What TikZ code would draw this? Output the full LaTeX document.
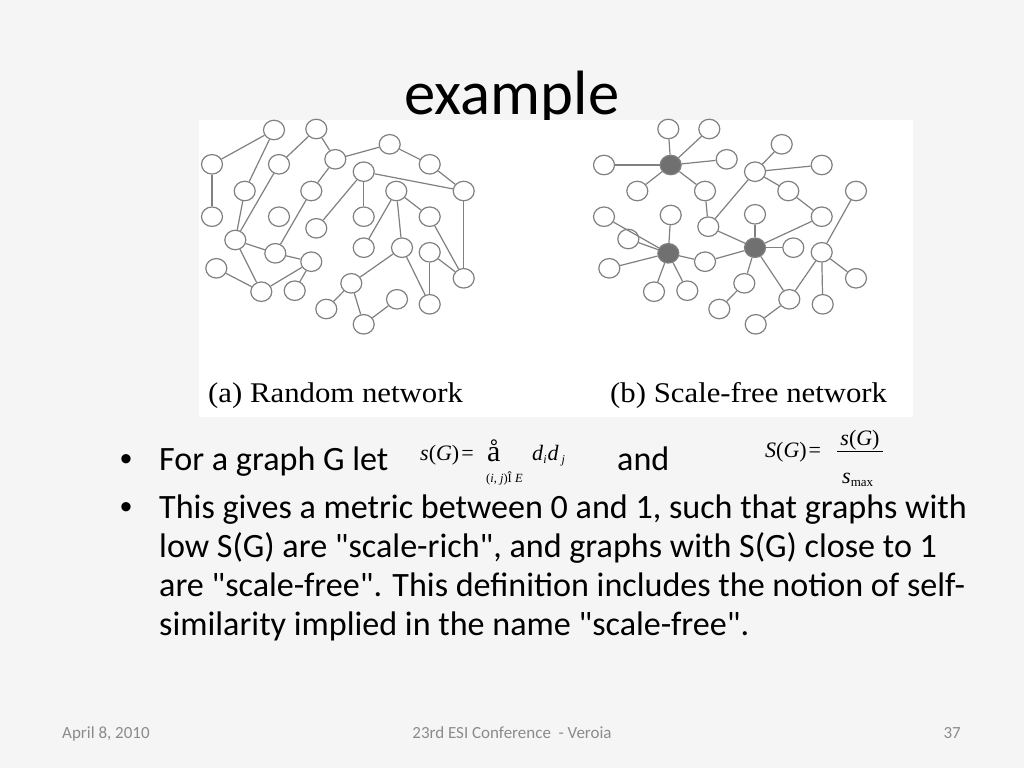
\documentclass[tikz,border=0pt]{standalone}
\usepackage{fontspec}
\setmainfont[Ligatures=TeXOff]{Carlito}
\newfontfamily\tms{Liberation Serif}
\newfontfamily\arl{Liberation Sans}
\usetikzlibrary{shapes.geometric}
\definecolor{slidebg}{RGB}{245,245,245}
\definecolor{edgegray}{RGB}{128,128,128}
\definecolor{hubgray}{RGB}{112,112,112}
\definecolor{footgray}{RGB}{139,139,139}
\tikzset{
  nd/.style={ellipse, draw=edgegray, fill=white, line width=1.2pt, minimum width=21pt, minimum height=19.5pt, inner sep=0pt},
  hub/.style={nd, fill=hubgray},
  edge/.style={draw=edgegray, line width=1.2pt},
  txt/.style={anchor=base west, inner sep=0pt, text=black},
  body/.style={txt, font=\fontsize{34.1}{40}\selectfont},
  foot/.style={inner sep=0pt, text=footgray, font=\fontsize{17}{20}\selectfont},
  glabel/.style={inner sep=0pt, anchor=base west, font=\tms\fontsize{28.5}{32}\selectfont, xscale=1.08, transform shape},
  mth/.style={txt, font=\tms\fontsize{22}{26}\selectfont},
}
\begin{document}
\begin{tikzpicture}[x=1pt,y=-1pt]
\useasboundingbox (0,0) rectangle (1024,768);
\fill[slidebg] (0,0) rectangle (1024,768);
% title
\node[anchor=base, inner sep=0pt, font=\fontsize{62.6}{70}\selectfont] (title) at (512,114) {example};
% picture area
\fill[white] (199,120) rectangle (913,416.5);

% ---------- random network ----------
\node[nd] (L1) at (274,130) {};
\node[nd] (L2) at (316.3,129) {};
\node[nd] (L3) at (212,164.3) {};
\node[nd] (L4) at (279,164.3) {};
\node[nd] (L5) at (335.3,159.3) {};
\node[nd] (L6) at (389.7,144.3) {};
\node[nd] (L7) at (429.7,164.3) {};
\node[nd] (L8) at (363.7,171.7) {};
\node[nd] (L9) at (244.7,191) {};
\node[nd] (L10) at (311.3,191) {};
\node[nd] (L11) at (396.3,191) {};
\node[nd] (L12) at (463.7,191) {};
\node[nd] (L13) at (212,216.7) {};
\node[nd] (L14) at (279,216.7) {};
\node[nd] (L15) at (363.7,216.7) {};
\node[nd] (L16) at (316.3,228.3) {};
\node[nd] (L17) at (429.7,216.7) {};
\node[nd] (L18) at (235.3,240) {};
\node[nd] (L19) at (275.3,253.3) {};
\node[nd] (L20) at (363.7,247.7) {};
\node[nd] (L21) at (402,247.7) {};
\node[nd] (L22) at (429.7,252.3) {};
\node[nd] (L23) at (311.3,261.7) {};
\node[nd] (L24) at (216.3,268.3) {};
\node[nd] (L25) at (463.7,278.3) {};
\node[nd] (L26) at (261.3,291.7) {};
\node[nd] (L27) at (294.7,290.7) {};
\node[nd] (L28) at (351.3,283.3) {};
\node[nd] (L29) at (326.3,309) {};
\node[nd] (L30) at (397,299.3) {};
\node[nd] (L31) at (429.7,304.3) {};
\node[nd] (L32) at (363.7,324.3) {};
\foreach \a/\b in {L1/L3,L1/L9,L2/L4,L2/L5,L3/L13,L4/L18,L5/L6,L5/L10,L6/L7,L7/L12,
  L8/L12,L8/L15,L8/L16,L9/L18,L10/L19,L11/L17,L11/L20,L11/L21,L12/L25,L17/L25,
  L18/L19,L18/L26,L19/L23,L23/L26,L23/L27,L24/L26,L21/L28,L21/L31,L22/L25,L22/L31,
  L28/L29,L28/L32,L30/L32}
  \draw[edge] (\a) -- (\b);

% ---------- scale-free network ----------
\node[nd] (Ra) at (668.3,129) {};
\node[nd] (Rb) at (709.3,129) {};
\node[nd] (Rc) at (604,165) {};
\node[hub] (Rd) at (670.7,165) {};
\node[nd] (Re) at (726.7,159.3) {};
\node[nd] (Rf) at (781.7,144.3) {};
\node[nd] (Rg) at (755,171.7) {};
\node[nd] (Rh) at (821.7,165) {};
\node[nd] (Ri) at (637.3,191) {};
\node[nd] (Rj) at (705,191) {};
\node[nd] (Rk) at (788.3,191) {};
\node[nd] (Rl) at (856,191) {};
\node[nd] (Rm) at (604,216.7) {};
\node[nd] (Rn) at (670.7,215) {};
\node[nd] (Ro) at (755,214.3) {};
\node[nd] (Rp) at (821.7,216.7) {};
\node[nd] (Rq) at (708.3,226.7) {};
\node[nd] (Rr) at (628.3,239) {};
\node[hub] (Rs) at (668.3,253.3) {};
\node[hub] (Rt) at (755,247.7) {};
\node[nd] (Ru) at (793.3,247.7) {};
\node[nd] (Rv) at (821.7,252.3) {};
\node[nd] (Rw) at (705,261.7) {};
\node[nd] (Rx) at (609.3,268.3) {};
\node[nd] (Ry) at (856,278.3) {};
\node[nd] (Rz) at (654,291.7) {};
\node[nd] (Raa) at (687.3,290.7) {};
\node[nd] (Rbb) at (744.3,283.3) {};
\node[nd] (Rcc) at (789.3,299.3) {};
\node[nd] (Rdd) at (822.7,304.3) {};
\node[nd] (Ree) at (719.3,309) {};
\node[nd] (Rff) at (755.7,324.3) {};
\foreach \a/\b in {Ra/Rd,Rb/Rd,Rc/Rd,Rd/Re,Rd/Ri,Rd/Rj,Rj/Rq,Rf/Rg,Rg/Rh,Rg/Rk,
  Rg/Rq,Rk/Rp,Rl/Rv,Rm/Rs,Rn/Rs,Rr/Rs,Rx/Rs,Rs/Rz,Rs/Raa,Rs/Rw,Rq/Rt,Rw/Rt,Ro/Rt,
  Rp/Rt,Ru/Rt,Rt/Rbb,Rt/Rcc,Rbb/Ree,Rcc/Rff,Rcc/Rv,Rv/Rdd,Rv/Ry}
  \draw[edge] (\a) -- (\b);

% labels
\node[glabel] (la) at (208,402) {(a) Random network};
\node[glabel] (lb) at (610,402) {(b) Scale-free network};

% ---------- bullets ----------
\node[txt, font=\arl\fontsize{34.1}{40}\selectfont] (b1) at (120,470) {•};
\node[body] (t1) at (159,470) {For a graph G let};
\node[mth] (sg) at (420,460) {\textit{s}(\textit{G})\hspace{2pt}=};
\node[txt, font=\tms\fontsize{30}{32}\selectfont] (sum) at (487,461) {å};
\node[mth] (didj) at (532,460) {\textit{d}\raisebox{-3pt}{\fontsize{12}{14}\selectfont\textit{i}}\hspace{1pt}\textit{d}\hspace{3pt}\raisebox{-3pt}{\fontsize{12}{14}\selectfont\textit{j}}};
\node[txt, font=\tms\fontsize{12.5}{14}\selectfont] (sub) at (486,482) {(\textit{i}, \textit{j})Î \textit{E}};
\node[body] (and) at (617,470) {and};
\node[mth] (SG) at (765,457) {\textit{S}(\textit{G})\hspace{2pt}=};
\node[mth, anchor=base] (num) at (860,445) {\textit{s}(\textit{G})};
\coordinate (barL) at (837,451.7);
\coordinate (barR) at (883,451.7);
\draw[line width=0.9pt] (barL) -- (barR);
\node[mth] (den) at (842,483) {\textit{s}\raisebox{-3pt}{\fontsize{13}{15}\selectfont max}};

\node[txt, font=\arl\fontsize{34.1}{40}\selectfont] (b2) at (120,518) {•};
\node[body] (t2) at (159,518) {This gives a metric between 0 and 1, such that graphs with};
\node[body] (t3) at (159,557) {low S(G) are "scale-rich", and graphs with S(G) close to 1};
\node[body] (t4) at (159,596) {are "scale-free". This definition includes the notion of self-};
\node[body] (t5) at (159,635) {similarity implied in the name "scale-free".};

% footer
\node[foot, anchor=base west] (f1) at (62,738) {April 8, 2010};
\node[foot, anchor=base] (f2) at (512,738) {23rd ESI Conference\ \ - Veroia};
\node[foot, anchor=base east] (f3) at (961,738) {37};
\end{tikzpicture}
\end{document}
